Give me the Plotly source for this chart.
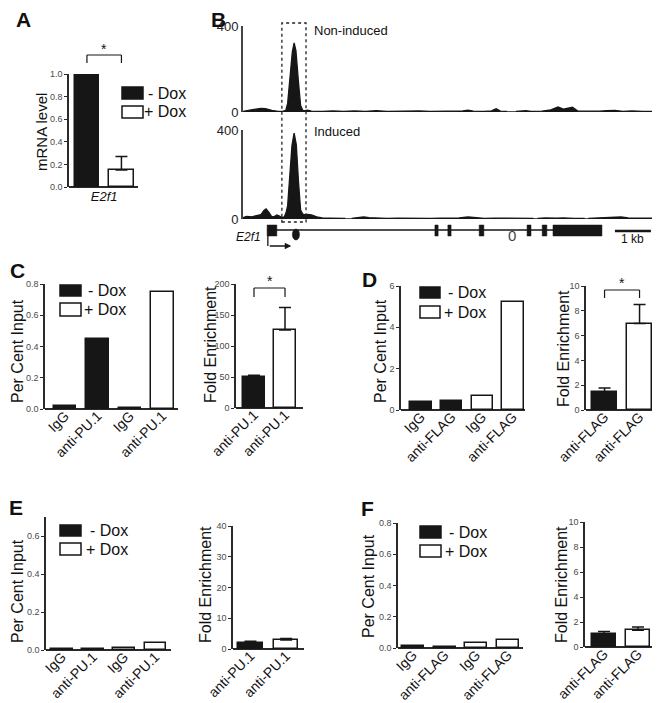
import plotly.graph_objects as go

W, H = 660, 703
FONT = "Liberation Sans, Arial, sans-serif"

# ---------------- data ----------------
groups = ["- Dox", "+ Dox"]

# Panel A: E2f1 mRNA level
A_gene = "E2f1"
A_mrna = [1.0, 0.15]
A_err = [0.0, 0.12]

# Panel B: ChIP-seq coverage (position in kb, read coverage)
B_non_pos = [0.00, 0.15, 0.30, 0.50, 0.62, 0.80, 0.97, 1.10, 1.19, 1.24, 1.30, 1.37, 1.42, 1.47, 1.54, 1.60, 1.66,
             1.72, 1.80, 1.90, 2.20, 2.50, 2.80, 3.10, 3.40, 3.70, 4.00, 4.30, 4.60, 4.90, 5.20, 5.50, 5.80, 6.10,
             6.25, 6.40, 6.70, 6.90, 7.03, 7.15, 7.33, 7.34, 7.57, 7.58, 7.86, 8.00, 8.30, 8.55, 8.75, 8.90, 9.05,
             9.15, 9.30, 9.60, 9.90, 10.10, 10.33, 10.55, 10.80, 11.10, 11.30, 11.61]
B_non_val = [3, 6, 12, 17, 16, 8, 3, 3, 8, 40, 150, 280, 321, 285, 140, 30, 8,
             6, 9, 4, 3, 5, 3, 5, 3, 6, 3, 4, 3, 5, 3, 4, 3, 5,
             8, 4, 3, 5, 15, 4, 3, None, None, 3, 6, 3, 4, 10, 23, 13, 20,
             22, 4, 3, 4, 6, 7, 3, 5, 3, 4, 3]
B_ind_pos = [0.00, 0.10, 0.25, 0.40, 0.50, 0.58, 0.64, 0.72, 0.80, 0.88, 0.94, 1.00, 1.08, 1.15, 1.20, 1.24, 1.30,
             1.36, 1.42, 1.48, 1.54, 1.60, 1.66, 1.70, 1.80, 1.90, 2.05, 2.20, 2.40, 2.60, 2.84, 2.85, 3.01,
             3.02, 3.20, 3.35, 3.50, 3.70, 4.00, 4.30, 4.60, 4.90, 5.20, 5.50, 5.80, 6.00, 6.25, 6.45, 6.70,
             7.00, 7.30, 7.60, 7.90, 8.07, 8.08, 8.17, 8.18, 8.40, 8.70, 8.90, 9.20, 9.49, 9.50, 9.58, 9.59,
             9.90, 10.20, 10.50, 10.70, 11.00, 11.30, 11.58]
B_ind_val = [6, 12, 10, 15, 20, 38, 45, 30, 10, 12, 18, 14, 8, 10, 30, 60, 180,
             330, 386, 335, 170, 40, 22, 20, 21, 18, 10, 5, 4, 5, 3, None, None,
             3, 5, 9, 6, 4, 3, 4, 3, 4, 3, 4, 3, 5, 9, 5, 3,
             4, 3, 4, 3, 3, None, None, 3, 5, 4, 5, 3, 3, None, None, 3,
             4, 5, 9, 5, 3, 4, 3]
B_ticks = [0, 400]
B_exons = [(0.67, 0.94), (5.33, 5.42), (5.69, 5.78), (6.56, 6.69), (7.89, 8.00), (8.31, 8.44), (8.61, 9.97)]
B_tss = 0.69
B_box = (1.08, 1.75)
B_scale_start = 10.33   # 1 kb scale bar

# Panel C: PU.1 ChIP
C_labels = ["IgG", "anti-PU.1", "IgG", "anti-PU.1"]
C_pci = [0.02, 0.445, 0.005, 0.75]
C_fe_labels = ["anti-PU.1", "anti-PU.1"]
C_fe = [50, 126]
C_fe_err = [3, 36]

# Panel D: FLAG ChIP
D_labels = ["IgG", "anti-FLAG", "IgG", "anti-FLAG"]
D_pci = [0.39, 0.45, 0.67, 5.22]
D_fe_labels = ["anti-FLAG", "anti-FLAG"]
D_fe = [1.45, 6.97]
D_fe_err = [0.33, 1.53]

# Panel E: PU.1 ChIP, control region
E_labels = ["IgG", "anti-PU.1", "IgG", "anti-PU.1"]
E_pci = [0.003, 0.005, 0.012, 0.036]
E_fe_labels = ["anti-PU.1", "anti-PU.1"]
E_fe = [2.1, 2.9]
E_fe_err = [0.4, 0.5]

# Panel F: FLAG ChIP, control region
F_labels = ["IgG", "anti-FLAG", "IgG", "anti-FLAG"]
F_pci = [0.014, 0.005, 0.031, 0.049]
F_fe_labels = ["anti-FLAG", "anti-FLAG"]
F_fe = [1.04, 1.33]
F_fe_err = [0.2, 0.27]


# ---------------- helpers ----------------
def px(x):
    return x / W


def py(y):
    return 1 - y / H


def xdom(a, b):
    return [px(a), px(b)]


def ydom(top, bottom):
    return [py(bottom), py(top)]


BLACK = "#161616"
AX = "#2a2a2a"

fig = go.Figure()
layout = dict(
    template="none",
    width=W, height=H, margin=dict(l=0, r=0, t=0, b=0, pad=0, autoexpand=False),
    paper_bgcolor="white", plot_bgcolor="rgba(0,0,0,0)", showlegend=False,
    font=dict(family=FONT, color="#111"), bargap=0, barmode="overlay",
)
shapes, annotations = [], []


def y_axis(dom, rng, dtick, fmt="", anchor=None):
    # the baseline (y = 0) is drawn as the zero line so that bar outlines sit exactly on it
    return dict(domain=dom, range=rng, dtick=dtick, tick0=0, tickformat=fmt, automargin=False,
                showline=True, linecolor=AX, linewidth=1.5, ticks="outside", ticklen=3,
                tickwidth=1, tickcolor=AX, tickfont=dict(size=9, color="#4a4a4a"),
                showgrid=False, zeroline=True, zerolinecolor=AX, zerolinewidth=1.6,
                anchor=anchor, fixedrange=True)


def x_axis(dom, rng, tickvals, ticktext, anchor, angle=-45, size=14, standoff=-5):
    return dict(domain=dom, range=rng, tickvals=tickvals, ticktext=ticktext, tickangle=angle,
                automargin=False, showline=False, ticks="",
                showgrid=False, zeroline=False, tickfont=dict(size=size, color="#111"),
                ticklabelstandoff=standoff, anchor=anchor, fixedrange=True)


def add_bars(n, vals, errs=None, width=0.7):
    xa, ya = ("x", "y") if n == 1 else ("x%d" % n, "y%d" % n)
    idx = list(range(len(vals)))
    half = len(vals) // 2
    for g, sl, color in [(0, slice(0, half), BLACK), (1, slice(half, len(vals)), "white")]:
        tr = go.Bar(x=idx[sl], y=vals[sl], width=width, name=groups[g],
                    marker=dict(color=color, line=dict(color=BLACK, width=1.5)),
                    xaxis=xa, yaxis=ya, showlegend=False)
        if errs is not None and any(e > 0 for e in errs[sl]):
            tr.error_y = dict(type="data", array=errs[sl], arrayminus=[0] * len(errs[sl]),
                              symmetric=False, color=BLACK, thickness=1.5, width=6)
        fig.add_trace(tr)


def text(t, x, y, size, xanchor="center", color="#111", angle=0):
    annotations.append(dict(text=t, x=px(x), y=py(y), xref="paper", yref="paper",
                            textangle=angle, showarrow=False, font=dict(size=size, color=color),
                            xanchor=xanchor, yanchor="middle"))


def ytitle(t, x, y, size=16):
    text(t, x, y, size, angle=-90)


def panel_label(t, x, y):
    text("<b>%s</b>" % t, x, y, 21)


def bracket(xa, x0, x1, top, bottom, star_y):
    for xs, ys in [((x0, x0), (bottom, top)), ((x0, x1), (top, top)), ((x1, x1), (top, bottom))]:
        shapes.append(dict(type="line", xref=xa, yref="paper", x0=xs[0], x1=xs[1],
                           y0=py(ys[0]), y1=py(ys[1]), line=dict(color=BLACK, width=1.2)))
    annotations.append(dict(text="*", x=(x0 + x1) / 2, y=py(star_y), xref=xa, yref="paper",
                            showarrow=False, font=dict(size=14, color="#111"),
                            xanchor="center", yanchor="middle"))


def legend_box(x0, x1, rows, text_right, size=16):
    # rows: [(top, bottom), (top, bottom)] for "- Dox" (black) and "+ Dox" (white)
    for (top, bot), fill, name in zip(rows, [BLACK, "white"], groups):
        shapes.append(dict(type="rect", xref="paper", yref="paper", x0=px(x0), x1=px(x1),
                           y0=py(bot), y1=py(top), fillcolor=fill, line=dict(color=BLACK, width=1.5)))
        text(name, text_right, (top + bot) / 2, size, xanchor="right")


# ---------------- panel A ----------------
add_bars(1, A_mrna, A_err)
layout["xaxis"] = x_axis(xdom(61, 130), [-0.52, 1.48], [0.5], ["<i>%s</i>" % A_gene], "y",
                         angle=0, size=13, standoff=0)
layout["yaxis"] = y_axis(ydom(66, 179), [0, 1.0], 0.2, ".1f", "x")
legend_box(114, 135, [(79, 91), (98, 110)], 180)
ytitle("mRNA level", 33, 124, 15)
bracket("x", 0, 1, 47, 55, 41)
panel_label("A", 15, 12)

# ---------------- panel B ----------------
for n, pos, val, top, bot, lab, laby in [(2, B_non_pos, B_non_val, 18, 104, "Non-induced", 23),
                                         (3, B_ind_pos, B_ind_val, 122, 211, "Induced", 123)]:
    fig.add_trace(go.Scatter(x=pos, y=val, mode="lines", fill="tozeroy", fillcolor=BLACK,
                             line=dict(color=BLACK, width=1.3), connectgaps=False,
                             xaxis="x%d" % n, yaxis="y%d" % n, showlegend=False, hoverinfo="skip"))
    layout["xaxis%d" % n] = dict(domain=xdom(235, 653), range=[0, 11.61], visible=False,
                                 anchor="y%d" % n, fixedrange=True, automargin=False)
    layout["yaxis%d" % n] = dict(domain=ydom(top, bot), range=[0, 400], tickvals=B_ticks,
                                 showline=True, linecolor="#444", linewidth=1.8, ticks="",
                                 tickfont=dict(size=13, color="#222"), showgrid=False,
                                 zeroline=False, anchor="x%d" % n, fixedrange=True, automargin=False)
    text(lab, 304, laby, 13, xanchor="left")
panel_label("B", 210, 11)

# dotted box around the peak
shapes.append(dict(type="rect", xref="x3", yref="paper", x0=B_box[0], x1=B_box[1],
                   y0=py(214), y1=py(15), line=dict(color="#222", width=1.3, dash="dot")))
# gene model
gy = 222
shapes.append(dict(type="line", xref="x3", yref="paper", x0=B_exons[0][0], x1=B_exons[-1][1],
                   y0=py(gy), y1=py(gy), line=dict(color=BLACK, width=1.5)))
for s, e in B_exons:
    shapes.append(dict(type="rect", xref="x3", yref="paper", x0=s, x1=e, y0=py(228), y1=py(217),
                       fillcolor=BLACK, line=dict(color=BLACK, width=0.5)))
shapes.append(dict(type="circle", xref="x3", yref="paper", x0=1.37, x1=1.57, y0=py(232), y1=py(221),
                   fillcolor=BLACK, line=dict(color=BLACK, width=0.5)))
shapes.append(dict(type="line", xref="x3", yref="paper", x0=B_tss, x1=B_tss, y0=py(228), y1=py(238),
                   line=dict(color=BLACK, width=1.3)))
annotations.append(dict(x=B_tss + 0.65, y=py(238), xref="x3", yref="paper", ax=-23, ay=0,
                        axref="pixel", ayref="pixel", showarrow=True, arrowhead=2, arrowsize=1,
                        arrowwidth=1.3, arrowcolor=BLACK, text=""))
text("<i>E2f1</i>", 240, 229, 12)
text("0", 504, 227, 15, color="#444")
shapes.append(dict(type="line", xref="x3", yref="paper", x0=B_scale_start, x1=B_scale_start + 1,
                   y0=py(223), y1=py(223), line=dict(color=BLACK, width=2.5)))
annotations.append(dict(text="1 kb", x=B_scale_start + 0.5, y=py(231), xref="x3", yref="paper",
                        showarrow=False, font=dict(size=12, color="#111"), xanchor="center", yanchor="middle"))

# ---------------- panels C–F ----------------
panels = [
    ("C", C_labels, C_pci, C_fe_labels, C_fe, C_fe_err,
     dict(n=4, xd=(37, 170), yd=(276, 401), xr=[-0.615, 3.48], yr=[0, 0.8], dt=0.2, fmt=".1f"),
     dict(n=5, xd=(228, 295), yd=(276, 400), xr=[-0.58, 1.58], yr=[0, 200], dt=50, fmt=""),
     ((52, 73), [(277, 288), (295, 308)], 120), ((9, 343), (202, 336)), (9, 262), (280, 289, 273)),
    ("D", D_labels, D_pci, D_fe_labels, D_fe, D_fe_err,
     dict(n=6, xd=(393, 517), yd=(278, 402), xr=[-0.65, 3.39], yr=[0, 6], dt=2, fmt=""),
     dict(n=7, xd=(578, 648), yd=(278, 402), xr=[-0.53, 1.47], yr=[0, 10], dt=2, fmt=""),
     ((412, 432), [(279, 290), (298, 310)], 480), ((372, 343), (555, 341)), (361, 271), (282, 290, 275)),
    ("E", E_labels, E_pci, E_fe_labels, E_fe, E_fe_err,
     dict(n=8, xd=(38, 163), yd=(509, 642), xr=[-0.51, 3.5], yr=[0, 0.7], dt=0.2, fmt=".1f"),
     dict(n=9, xd=(225, 296), yd=(518, 641), xr=[-0.49, 1.5], yr=[0, 40], dt=10, fmt=""),
     ((52, 73), [(517, 528), (535, 547)], 121.5), ((9, 583), (197, 577)), (8, 499), None),
    ("F", F_labels, F_pci, F_fe_labels, F_fe, F_fe_err,
     dict(n=10, xd=(390, 515), yd=(515, 640), xr=[-0.47, 3.47], yr=[0, 0.8], dt=0.2, fmt=".1f"),
     dict(n=11, xd=(577, 647), yd=(514, 639), xr=[-0.56, 1.5], yr=[0, 10], dt=2, fmt=""),
     ((412, 433), [(518, 530), (537, 549)], 480.5), ((360, 578), (553, 577)), (359, 500), None),
]

for letter, labels, pci, fe_labels, fe, fe_err, L, R, leg, titles, plab, sig in panels:
    add_bars(L["n"], pci, None, width=0.69)
    add_bars(R["n"], fe, fe_err, width=0.69)
    for ax, lab in ((L, labels), (R, fe_labels)):
        n = ax["n"]
        layout["xaxis%d" % n] = x_axis(xdom(*ax["xd"]), ax["xr"], list(range(len(lab))), lab, "y%d" % n)
        layout["yaxis%d" % n] = y_axis(ydom(*ax["yd"]), ax["yr"], ax["dt"], ax["fmt"], "x%d" % n)
    legend_box(leg[0][0], leg[0][1], leg[1], leg[2])
    ytitle("Per Cent Input", *titles[0])
    ytitle("Fold Enrichment", *titles[1])
    panel_label(letter, *plab)
    if sig:
        bracket("x%d" % R["n"], 0, 1, *sig)

layout["shapes"] = shapes
layout["annotations"] = annotations
fig.update_layout(**layout)
fig.write_html("out.html")
